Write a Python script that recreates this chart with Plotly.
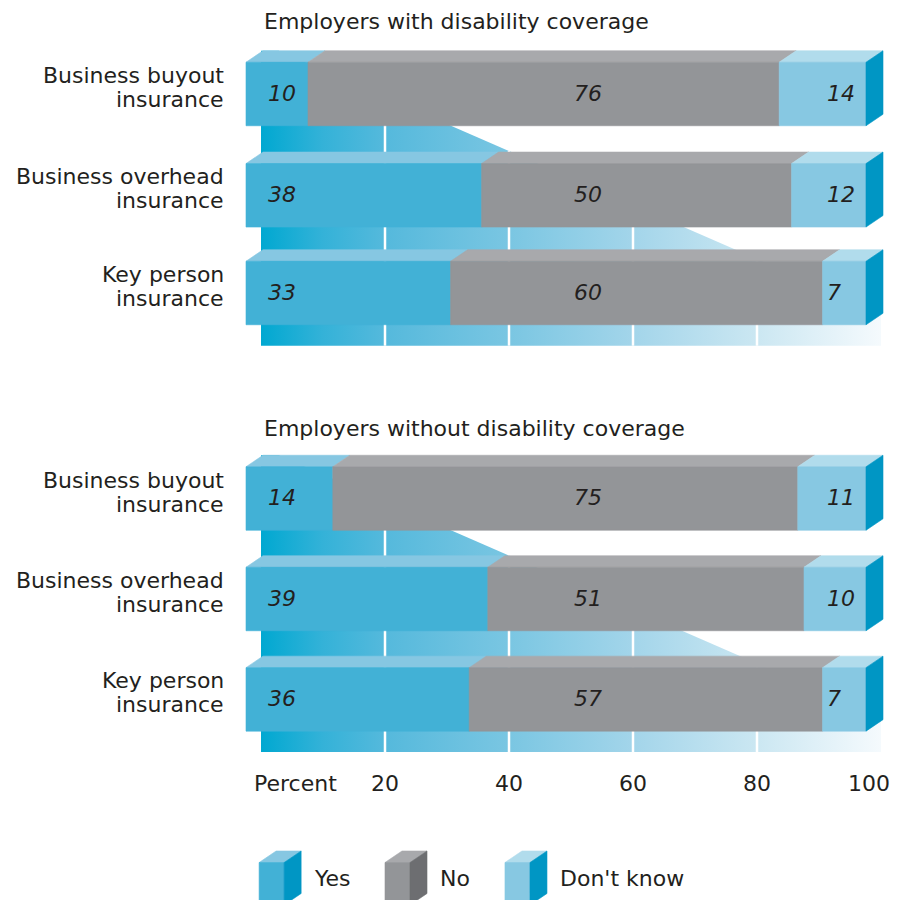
import plotly.graph_objects as go

# ---- data ---------------------------------------------------------------
GROUPS = ["Employers with disability coverage", "Employers without disability coverage"]
CATEGORIES = ["Business buyout<br>insurance", "Business overhead<br>insurance", "Key person<br>insurance"]
SERIES = ["Yes", "No", "Don't know"]

YES = [[10, 38, 33], [14, 39, 36]]
NO = [[76, 50, 60], [75, 51, 57]]
DONT_KNOW = [[14, 12, 7], [11, 10, 7]]

TICK_VALUES = [0, 20, 40, 60, 80, 100]
TICK_LABELS = ["Percent", "20", "40", "60", "80", "100"]

# ---- styling / layout constants ----------------------------------------
W, H = 901, 900
PX_PER_X = 6.2                 # pixels per percentage point
X_ORIGIN_PX = 261              # where 0 % sits
Y_UNIT_PX = 100                # pixels per vertical unit

ROW_CENTERS = [[0.94, 1.953, 2.93], [4.985, 5.99, 6.994]]
TITLE_Y = [0.21, 4.28]
BAR_H = 0.635
DEPTH_X = 17 / PX_PER_X        # 3D depth offset (x units)
DEPTH_Y = 0.115                # 3D depth offset (y units)
FRONT_SHIFT = -15 / PX_PER_X   # front face sits left of the floor

FACE = {"Yes": "#42b1d6", "No": "#939598", "Don't know": "#87c8e2"}
TOP = {"Yes": "#86c7e2", "No": "#a8a9ac", "Don't know": "#b1dcec"}
SIDE = {"Yes": "#0096c4", "No": "#6d6e71", "Don't know": "#0096c4"}
TEXT = "#231f20"
FONT = "DejaVu Sans"
FS = 22

FLOOR_SCALE = [[0.0, "#00a8d1"], [0.1, "#34b2d8"], [0.2, "#55b9dc"], [0.4, "#7ac6e2"],
               [0.6, "#a3d5ea"], [0.8, "#cbe7f2"], [1.0, "#f5fafd"]]
DIAG_X, DIAG_DY, DIAG_SLOPE = 31.0, 0.327, 0.027   # floor's receding edge
FLOOR_BOTTOM = 0.527

fig = go.Figure()


def poly(xs, ys, color, **kw):
    fig.add_trace(go.Scatter(
        x=list(xs) + [xs[0]], y=list(ys) + [ys[0]], mode="lines", fill="toself",
        fillcolor=color, line=dict(color=color, width=0.6),
        hoverinfo="skip", showlegend=False, **kw))


def cube_faces(x0, x1, y_top, y_bot, key, side=True):
    # top face
    poly([x0, x1, x1 + DEPTH_X, x0 + DEPTH_X],
         [y_top, y_top, y_top - DEPTH_Y, y_top - DEPTH_Y], TOP[key])
    # front face
    poly([x0, x1, x1, x0], [y_top, y_top, y_bot, y_bot], FACE[key])
    if side:
        poly([x1, x1 + DEPTH_X, x1 + DEPTH_X, x1],
             [y_top, y_top - DEPTH_Y, y_bot - DEPTH_Y, y_bot], SIDE[key])


def label(x, y, text, anchor, size=FS):
    annotations.append(dict(x=x, y=y, text=text, xanchor=anchor, yanchor="middle",
                            showarrow=False, font=dict(size=size, color=TEXT, family=FONT)))


annotations = []

for g, group in enumerate(GROUPS):
    rows = ROW_CENTERS[g]
    top = rows[0] - BAR_H / 2 - DEPTH_Y
    bottom = rows[-1] + FLOOR_BOTTOM
    y_diag0 = rows[0] + DIAG_DY

    def diag_y(x):
        return y_diag0 + (x - DIAG_X) * DIAG_SLOPE

    def diag_x(y):
        return DIAG_X + (y - y_diag0) / DIAG_SLOPE

    # gradient floor, cut by its receding edge
    xs = [0, diag_x(top), 100, 100, 0]
    ys = [top, top, diag_y(100), bottom, bottom]
    fig.add_trace(go.Scatter(
        x=xs + [xs[0]], y=ys + [ys[0]], mode="lines", fill="toself",
        line=dict(width=0), hoverinfo="skip", showlegend=False,
        fillgradient=dict(type="horizontal", colorscale=FLOOR_SCALE, start=0, stop=100)))

    # white grid lines on the floor
    for t in TICK_VALUES[1:-1]:
        fig.add_trace(go.Scatter(
            x=[t, t], y=[max(top, diag_y(t)), bottom], mode="lines",
            line=dict(color="white", width=2.5), hoverinfo="skip", showlegend=False))

    # group title
    label(0.15, TITLE_Y[g], group, "left")

    for i, cat in enumerate(CATEGORIES):
        yc = rows[i]
        y_top, y_bot = yc - BAR_H / 2, yc + BAR_H / 2
        vals = [YES[g][i], NO[g][i], DONT_KNOW[g][i]]
        start = 0
        for s, (name, v) in enumerate(zip(SERIES, vals)):
            x0 = start + FRONT_SHIFT
            x1 = start + v + FRONT_SHIFT
            cube_faces(x0, x1, y_top, y_bot, name, side=(s == len(SERIES) - 1))
            start += v

        # value labels
        label(0.8, yc - 0.01, f"<i>{vals[0]}</i>", "left")
        label(52.7, yc - 0.01, f"<i>{vals[1]}</i>", "center")
        label(91.0, yc - 0.01, f"<i>{vals[2]}</i>", "left")

        # category label, one annotation per line
        for k, line in enumerate(cat.split("<br>")):
            label(-5.6, yc - 0.185 + 0.24 * k, line, "right")

# axis tick labels
for t, lab in zip(TICK_VALUES, TICK_LABELS):
    if t == 0:
        anchor, xx = "left", -1.4
    elif t == 100:
        anchor, xx = "center", 98.1
    else:
        anchor, xx = "center", t
    label(xx, 7.83, lab, anchor)

# legend with cube swatches
LEGEND_X = [-0.3, 20.0, 39.35]
CUBE_W = 25 / PX_PER_X
for name, lx in zip(SERIES, LEGEND_X):
    cube_faces(lx, lx + CUBE_W, 8.625, 9.05, name)
    label(lx + 8.6, 8.78, name, "left")

fig.update_layout(
    width=W, height=H, margin=dict(l=0, r=0, t=0, b=0),
    paper_bgcolor="white", plot_bgcolor="white",
    xaxis=dict(range=[-X_ORIGIN_PX / PX_PER_X, (W - X_ORIGIN_PX) / PX_PER_X],
               visible=False, fixedrange=True),
    yaxis=dict(range=[H / Y_UNIT_PX, 0], visible=False, fixedrange=True),
    annotations=annotations,
    showlegend=False,
)

fig.write_html("out.html")
